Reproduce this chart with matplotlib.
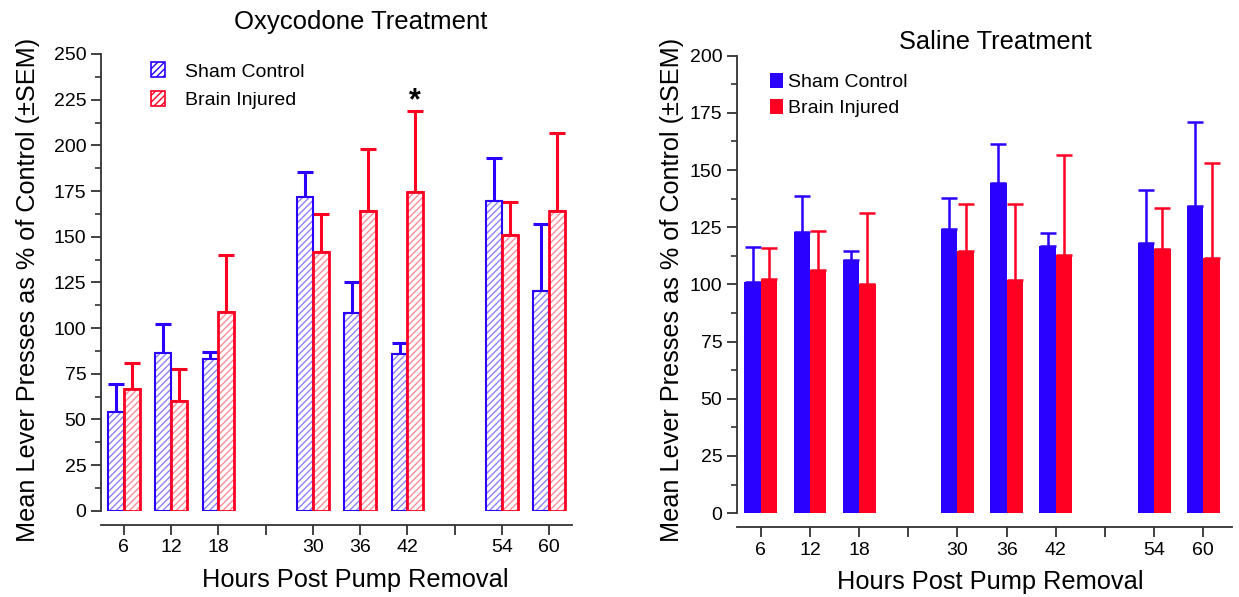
import matplotlib.pyplot as plt
import numpy as np
from matplotlib.patches import Patch
from matplotlib.ticker import MultipleLocator

plt.rcParams['font.family'] = ['Liberation Sans', 'DejaVu Sans']

hours = [6, 12, 18, 30, 36, 42, 54, 60]
tick_hours = [6, 12, 18, 24, 30, 36, 42, 48, 54, 60]
tick_labels = ['6', '12', '18', '', '30', '36', '42', '', '54', '60']

# Oxycodone treatment
oxy_sham = [54, 86.5, 83.2, 171.6, 108, 85.8, 169.7, 120]
oxy_sham_sem = [15.6, 15.9, 3.8, 13.6, 17, 6.2, 23.3, 37]
oxy_tbi = [66.4, 60.2, 108.6, 141.8, 164, 174.6, 151, 164]
oxy_tbi_sem = [14.6, 17.4, 31.4, 20.8, 33.8, 44.4, 17.8, 42.7]

# Saline treatment
sal_sham = [100.9, 122.8, 110.7, 124.4, 144.4, 117, 118, 134.3]
sal_sham_sem = [15.5, 15.7, 4.0, 13.2, 17.2, 5.6, 23.3, 36.6]
sal_tbi = [102.2, 106.4, 100, 114.8, 101.8, 113, 115.6, 111.4]
sal_tbi_sem = [13.6, 17.1, 31.2, 20.5, 33.2, 43.6, 18.0, 41.8]

BLUE = '#2a00ff'
RED = '#ff0022'
LBLUE = '#8c80ff'
LRED = '#ff8c96'
W = 2.0

fig = plt.figure(figsize=(12.39, 5.97), dpi=100)
ax1 = fig.add_axes([101 / 1239, 1 - 510.7 / 597, 471 / 1239, 456.7 / 597])
ax2 = fig.add_axes([737 / 1239, 1 - 513.1 / 597, 495 / 1239, 457.4 / 597])

x = np.array(hours, dtype=float)


def errs(ax, xs, ys, sem, color, lw):
    ax.errorbar(xs, ys, yerr=[np.zeros(len(ys)), sem], fmt='none', ecolor=color,
                elinewidth=lw, capsize=5.5, capthick=lw, zorder=1)


# left: hatched bars
errs(ax1, x - W / 2, oxy_sham, oxy_sham_sem, BLUE, 2.2)
errs(ax1, x + W / 2, oxy_tbi, oxy_tbi_sem, RED, 2.2)
ax1.bar(x - W / 2, oxy_sham, W, color='white', edgecolor=LBLUE, hatch='/////', lw=0, zorder=2)
ax1.bar(x - W / 2, oxy_sham, W, fill=False, edgecolor=BLUE, lw=1.5, zorder=3)
ax1.bar(x + W / 2, oxy_tbi, W, color='white', edgecolor=LRED, hatch='/////', lw=0, zorder=2)
ax1.bar(x + W / 2, oxy_tbi, W, fill=False, edgecolor=RED, lw=2, zorder=3)
ax1.text(43, 216, '*', fontsize=22, fontweight='bold', ha='center', va='bottom')

# right: solid bars
errs(ax2, x - W / 2, sal_sham, sal_sham_sem, BLUE, 1.8)
errs(ax2, x + W / 2, sal_tbi, sal_tbi_sem, RED, 1.8)
ax2.bar(x - W / 2, sal_sham, W, color=BLUE, lw=0, zorder=2)
ax2.bar(x + W / 2, sal_tbi, W, color=RED, lw=0, zorder=2)

for ax, top, xmax in [(ax1, 250, 62.9), (ax2, 200, 63.5)]:
    ax.set_xlim(3.1, xmax)
    ax.set_ylim(0, top)
    ax.spines['top'].set_visible(False)
    ax.spines['right'].set_visible(False)
    ax.spines['bottom'].set_position(('outward', 10))
    ax.spines['left'].set_bounds(0, top)
    for s in ('left', 'bottom'):
        ax.spines[s].set_linewidth(1.3)
        ax.spines[s].set_color('#333333')
    ax.yaxis.set_major_locator(MultipleLocator(25))
    ax.yaxis.set_minor_locator(MultipleLocator(12.5))
    ax.set_xticks(tick_hours)
    ax.set_xticklabels(tick_labels)
    ax.tick_params(axis='both', which='major', labelsize=14, length=7, width=1.3, color='#333333')
    ax.tick_params(axis='y', which='minor', length=4, width=1.2, color='#333333')

fig.text(361 / 1239, 1 - 22 / 597, 'Oxycodone Treatment', fontsize=18.5, ha='center', va='center')
fig.text(995 / 1239, 1 - 42 / 597, 'Saline Treatment', fontsize=18.3, ha='center', va='center')
fig.text(355 / 1239, 1 - 580 / 597, 'Hours Post Pump Removal', fontsize=18.3, ha='center', va='center')
fig.text(990 / 1239, 1 - 582 / 597, 'Hours Post Pump Removal', fontsize=18.3, ha='center', va='center')
ylab = 'Mean Lever Presses as % of Control (\u00b1SEM)'
fig.text(28 / 1239, 1 - 290 / 597, ylab, fontsize=18.2, rotation=90, ha='center', va='center')
fig.text(672 / 1239, 1 - 290 / 597, ylab, fontsize=18.2, rotation=90, ha='center', va='center')

h1 = [Patch(facecolor='white', edgecolor=BLUE, hatch='/////', lw=1.2),
      Patch(facecolor='white', edgecolor=RED, hatch='/////', lw=1.2)]
ax1.legend(h1, ['Sham Control', 'Brain Injured'], loc='upper left',
           bbox_to_anchor=(0.069, 1.02), frameon=False, fontsize=14,
           handlelength=0.7, handleheight=0.8, handletextpad=1.04, labelspacing=0.55)
h2 = [Patch(facecolor=BLUE), Patch(facecolor=RED)]
ax2.legend(h2, ['Sham Control', 'Brain Injured'], loc='upper left',
           bbox_to_anchor=(0.031, 1.001), frameon=False, fontsize=14,
           handlelength=0.7, handleheight=0.8, handletextpad=0.24, labelspacing=0.4)

fig.savefig('out.png', dpi=100)
